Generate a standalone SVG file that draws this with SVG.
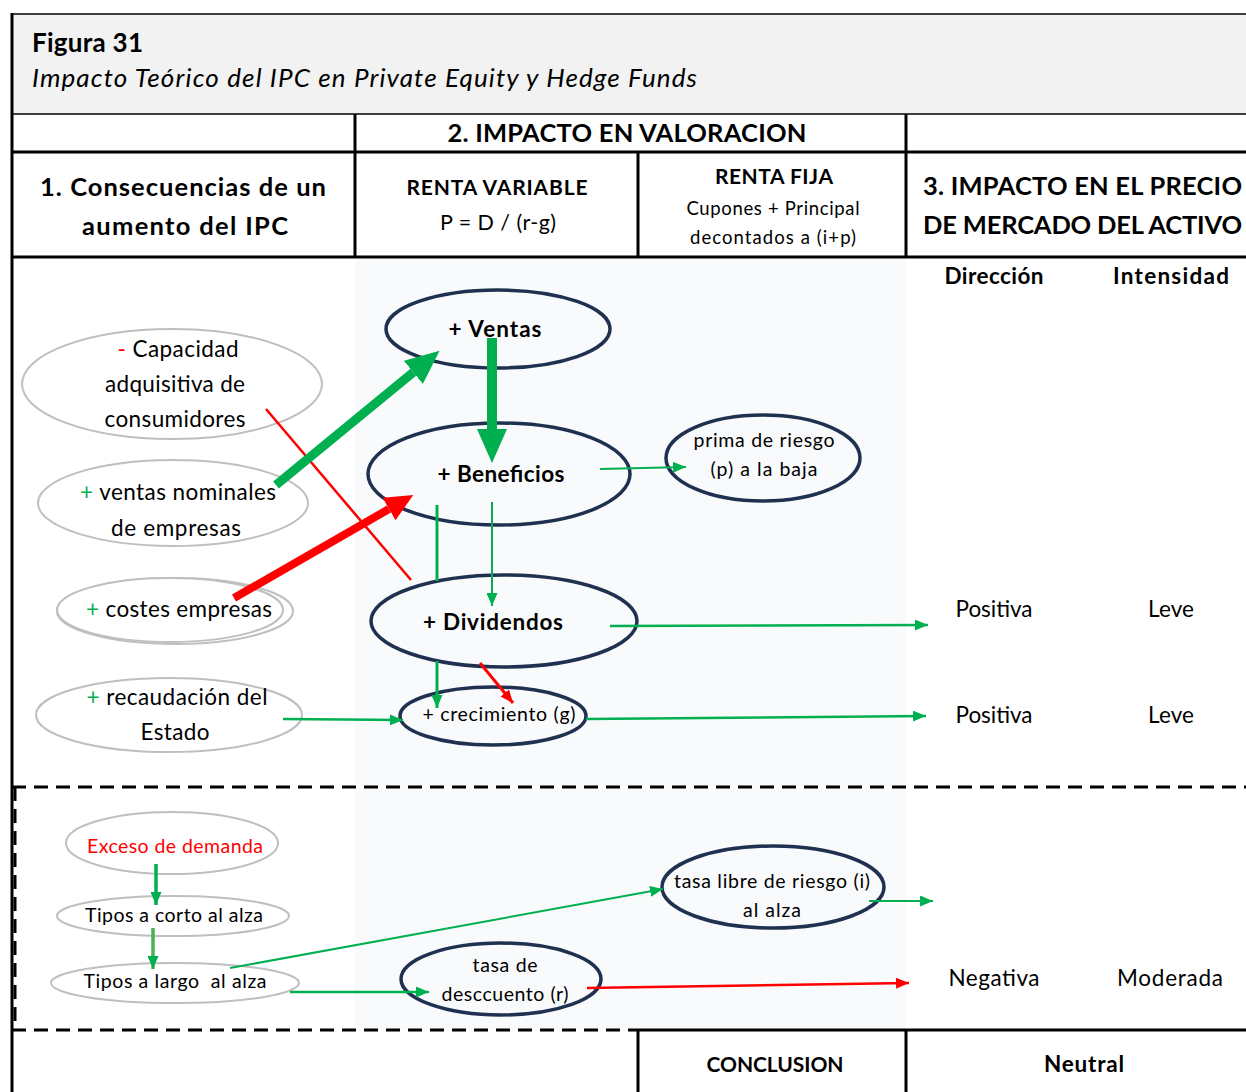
<svg xmlns="http://www.w3.org/2000/svg" width="1246" height="1092" viewBox="0 0 1246 1092">
  <style>
    text { font-family: Lato, "Open Sans", "Liberation Sans", sans-serif; fill: #000; }
    .b { font-weight: bold; }
    .mid { text-anchor: middle; }
    .hdr { font-size: 25.5px; font-weight: bold; }
    .lbl { font-size: 22.5px; }
    .sm { font-size: 19.5px; }
    .soft { fill: #fff; stroke: #bfbfbf; stroke-width: 2; }
    .key { fill: #f9fafb; stroke: #1f3050; stroke-width: 3.5; }
    .rule { stroke: #000; stroke-width: 3; fill: none; }
    .dash { stroke: #000; stroke-width: 3; stroke-dasharray: 14 8; fill: none; }
    .g { stroke: #00b050; fill: none; }
    .r { stroke: #ff0000; fill: none; }
    .plus { fill: #00b050; }
    .minus { fill: #ff0000; }
  </style>
  <defs>
    <marker id="hg" markerUnits="userSpaceOnUse" markerWidth="13" markerHeight="11" refX="13" refY="5.5" orient="auto">
      <path d="M0,0 L13,5.5 L0,11 z" fill="#00b050"/>
    </marker>
    <marker id="hr" markerUnits="userSpaceOnUse" markerWidth="13" markerHeight="11" refX="13" refY="5.5" orient="auto">
      <path d="M0,0 L13,5.5 L0,11 z" fill="#ff0000"/>
    </marker>
    <marker id="hgBig" markerUnits="userSpaceOnUse" markerWidth="34" markerHeight="30" refX="0" refY="15" orient="auto">
      <path d="M0,0 L34,15 L0,30 z" fill="#00b050"/>
    </marker>
    <marker id="hrBig" markerUnits="userSpaceOnUse" markerWidth="28" markerHeight="26" refX="0" refY="13" orient="auto">
      <path d="M0,0 L28,13 L0,26 z" fill="#ff0000"/>
    </marker>
  </defs>

  <!-- backgrounds -->
  <rect x="0" y="0" width="1246" height="1092" fill="#fff"/>
  <rect x="12" y="14" width="1234" height="100" fill="#f2f2f2"/>
  <rect x="355" y="259" width="551" height="771" fill="#f9fafb"/>

  <!-- table rules -->
  <g id="table">
    <line x1="12" y1="14" x2="1246" y2="14" stroke="#404040" stroke-width="2"/>
    <line x1="12" y1="114" x2="1246" y2="114" stroke="#404040" stroke-width="2"/>
    <line class="rule" x1="12" y1="152" x2="1246" y2="152"/>
    <line class="rule" x1="12" y1="257" x2="1246" y2="257" stroke-width="4"/>
    <line class="rule" x1="355" y1="114" x2="355" y2="257"/>
    <line class="rule" x1="906" y1="114" x2="906" y2="257"/>
    <line class="rule" x1="638" y1="152" x2="638" y2="257"/>
    <line class="rule" x1="12" y1="13" x2="12" y2="1092"/>
    <line class="dash" x1="12" y1="787" x2="1246" y2="787"/>
    <line class="dash" x1="12" y1="1030" x2="638" y2="1030"/>
    <line class="dash" x1="15" y1="787" x2="15" y2="1030" stroke-width="2"/>
    <line class="rule" x1="638" y1="1030" x2="1246" y2="1030"/>
    <line class="rule" x1="638" y1="1030" x2="638" y2="1092"/>
    <line class="rule" x1="906" y1="1030" x2="906" y2="1092"/>
  </g>

  <!-- headings -->
  <g id="headings">
    <text x="32" y="52" class="b" font-size="26" textLength="111">Figura 31</text>
    <text x="32" y="87" font-size="26" font-style="italic" textLength="665">Impacto Teórico del IPC en Private Equity y Hedge Funds</text>
    <text x="627" y="142" class="hdr mid" textLength="359">2. IMPACTO EN VALORACION</text>
    <text x="183" y="196" class="hdr mid" textLength="286">1. Consecuencias de un</text>
    <text x="185" y="235" class="hdr mid" textLength="206">aumento del IPC</text>
    <text x="497" y="195" class="b mid" font-size="21" textLength="181">RENTA VARIABLE</text>
    <text x="498" y="230" class="mid" font-size="21.5" textLength="116">P = D / (r-g)</text>
    <text x="774" y="184" class="b mid" font-size="21" textLength="118">RENTA FIJA</text>
    <text x="773" y="215" class="mid" font-size="18.5" textLength="173">Cupones + Principal</text>
    <text x="773" y="244" class="mid" font-size="18.5" textLength="166">decontados a (i+p)</text>
    <text x="923" y="195" class="hdr" textLength="319">3. IMPACTO EN EL PRECIO</text>
    <text x="923" y="234" class="hdr" textLength="319">DE MERCADO DEL ACTIVO</text>
    <text x="994" y="284" class="b mid" font-size="22.5" textLength="99">Dirección</text>
    <text x="1171" y="284" class="b mid" font-size="22.5" textLength="116">Intensidad</text>
  </g>

  <!-- inflation consequences -->
  <g id="node-capacidad">
    <ellipse class="soft" cx="172" cy="384" rx="150" ry="55"/>
    <text x="178" y="357" class="lbl mid" textLength="121"><tspan class="minus">-</tspan> Capacidad</text>
    <text x="175" y="392" class="lbl mid" textLength="140">adquisitiva de</text>
    <text x="175" y="427" class="lbl mid" textLength="141">consumidores</text>
  </g>
  <g id="node-ventas-nominales">
    <ellipse class="soft" cx="173" cy="503" rx="135" ry="43"/>
    <text x="178" y="500" class="lbl mid" textLength="196"><tspan class="plus">+</tspan> ventas nominales</text>
    <text x="176" y="536" class="lbl mid" textLength="130">de empresas</text>
  </g>
  <g id="node-costes">
    <ellipse class="soft" cx="175" cy="611" rx="118" ry="33"/>
    <ellipse class="soft" cx="170" cy="610" rx="113" ry="32" fill="none"/>
    <text x="179" y="617" class="lbl mid" textLength="186"><tspan class="plus">+</tspan> costes empresas</text>
  </g>
  <g id="node-recaudacion">
    <ellipse class="soft" cx="169" cy="715" rx="133" ry="37"/>
    <text x="177" y="705" class="lbl mid" textLength="181"><tspan class="plus">+</tspan> recaudación del</text>
    <text x="175" y="740" class="lbl mid" textLength="69">Estado</text>
  </g>

  <!-- equity valuation chain -->
  <g id="node-ventas">
    <ellipse class="key" cx="498" cy="329" rx="112" ry="39"/>
    <text x="495" y="337" class="b mid" font-size="22.5" textLength="93">+ Ventas</text>
  </g>
  <g id="node-beneficios">
    <ellipse class="key" cx="499" cy="474" rx="131" ry="51"/>
    <text x="501" y="482" class="b mid" font-size="22.5" textLength="127">+ Beneficios</text>
  </g>
  <g id="node-prima">
    <ellipse class="key" cx="763" cy="458" rx="97" ry="43"/>
    <text x="764" y="447" class="sm mid" textLength="141">prima de riesgo</text>
    <text x="764" y="476" class="sm mid" textLength="107">(p) a la baja</text>
  </g>
  <g id="node-dividendos">
    <ellipse class="key" cx="504" cy="621" rx="133" ry="46"/>
    <text x="493" y="630" class="b mid" font-size="22.5" textLength="140">+ Dividendos</text>
  </g>
  <g id="node-crecimiento">
    <ellipse class="key" cx="493" cy="716" rx="93" ry="29"/>
    <text x="499" y="721" class="sm mid" textLength="153">+ crecimiento (g)</text>
  </g>

  <!-- interest-rate channel -->
  <g id="node-exceso">
    <ellipse class="soft" cx="172" cy="843" rx="106" ry="31"/>
    <text x="175" y="853" class="sm mid" style="fill:#ff0000" textLength="176">Exceso de demanda</text>
  </g>
  <g id="node-corto">
    <ellipse class="soft" cx="173" cy="916" rx="116" ry="20"/>
    <text x="174" y="922" class="sm mid" textLength="178">Tipos a corto al alza</text>
  </g>
  <g id="node-largo">
    <ellipse class="soft" cx="175" cy="983" rx="124" ry="20"/>
    <text x="175" y="988" class="sm mid" xml:space="preserve" textLength="183">Tipos a largo  al alza</text>
  </g>
  <g id="node-libre">
    <ellipse class="key" cx="773" cy="887" rx="111" ry="41"/>
    <text x="772" y="888" class="sm mid" textLength="196">tasa libre de riesgo (i)</text>
    <text x="772" y="917" class="sm mid" textLength="58">al alza</text>
  </g>
  <g id="node-descuento">
    <ellipse class="key" cx="501" cy="979" rx="100" ry="36"/>
    <text x="505" y="972" class="sm mid" textLength="65">tasa de</text>
    <text x="505" y="1001" class="sm mid" textLength="127">desccuento (r)</text>
  </g>

  <!-- market price impact -->
  <g id="results">
    <text x="994" y="617" class="lbl mid" textLength="77">Positiva</text>
    <text x="1171" y="617" class="lbl mid" textLength="46">Leve</text>
    <text x="994" y="723" class="lbl mid" textLength="77">Positiva</text>
    <text x="1171" y="723" class="lbl mid" textLength="46">Leve</text>
    <text x="994" y="986" class="lbl mid" textLength="91">Negativa</text>
    <text x="1170" y="986" class="lbl mid" textLength="106">Moderada</text>
    <text x="775" y="1072" class="b mid" font-size="21" textLength="137">CONCLUSION</text>
    <text x="1084" y="1072" class="b mid" font-size="22.5" textLength="80">Neutral</text>
  </g>

  <!-- connectors -->
  <g id="connectors">
    <line class="r" x1="266" y1="409" x2="411" y2="580" stroke-width="2.5"/>
    <line class="g" x1="276" y1="485" x2="413.3" y2="372.3" stroke-width="9" marker-end="url(#hgBig)"/>
    <line class="g" x1="492" y1="338" x2="492" y2="429" stroke-width="10" marker-end="url(#hgBig)"/>
    <line class="r" x1="234" y1="598" x2="389" y2="509" stroke-width="8" marker-end="url(#hrBig)"/>
    <line class="g" x1="600" y1="469" x2="686" y2="467" stroke-width="2" marker-end="url(#hg)"/>
    <line class="g" x1="437" y1="505" x2="437" y2="581" stroke-width="3"/>
    <line class="g" x1="437" y1="661" x2="437" y2="708" stroke-width="3" marker-end="url(#hg)"/>
    <line class="g" x1="492" y1="502" x2="492" y2="606" stroke-width="2" marker-end="url(#hg)"/>
    <line class="r" x1="480" y1="663" x2="513" y2="703" stroke-width="3" marker-end="url(#hr)"/>
    <line class="g" x1="610" y1="626" x2="928" y2="625" stroke-width="2.5" marker-end="url(#hg)"/>
    <line class="g" x1="283" y1="719" x2="403" y2="720" stroke-width="2.5" marker-end="url(#hg)"/>
    <line class="g" x1="586" y1="719" x2="926" y2="716" stroke-width="2.5" marker-end="url(#hg)"/>
    <line class="g" x1="156" y1="864" x2="156" y2="905" stroke-width="3.5" marker-end="url(#hg)"/>
    <line class="g" x1="153" y1="928" x2="153" y2="969" stroke-width="3.5" marker-end="url(#hg)" style="stroke:#4caf50"/>
    <line class="g" x1="230" y1="968" x2="663" y2="889" stroke-width="2" marker-end="url(#hg)"/>
    <line class="g" x1="290" y1="992" x2="429" y2="992" stroke-width="2.5" marker-end="url(#hg)"/>
    <line class="g" x1="869" y1="901" x2="933" y2="901" stroke-width="2" marker-end="url(#hg)"/>
    <line class="r" x1="587" y1="988" x2="909" y2="983" stroke-width="2.5" marker-end="url(#hr)"/>
  </g>
</svg>
